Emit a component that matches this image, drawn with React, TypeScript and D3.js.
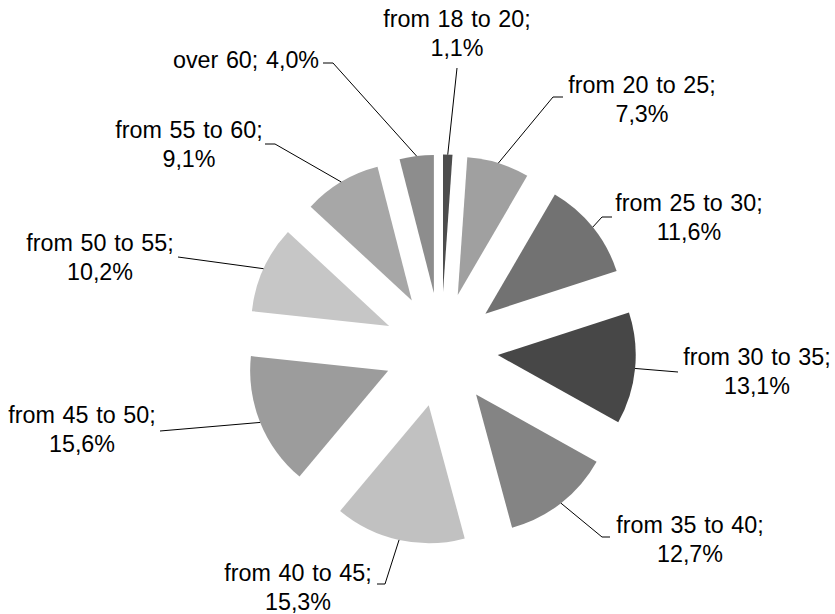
import React from "react";
import * as d3 from "d3";

const categories = [
  "from 18 to 20",
  "from 20 to 25",
  "from 25 to 30",
  "from 30 to 35",
  "from 35 to 40",
  "from 40 to 45",
  "from 45 to 50",
  "from 50 to 55",
  "from 55 to 60",
  "over 60",
];
const values = [1.1, 7.3, 11.6, 13.1, 12.7, 15.3, 15.6, 10.2, 9.1, 4.0];
const colors = [
  "#4d4d4d",
  "#a0a0a0",
  "#727272",
  "#474747",
  "#848484",
  "#c1c1c1",
  "#9c9c9c",
  "#c6c6c6",
  "#a7a7a7",
  "#8d8d8d",
];

// label layout: text centre x, first baseline y, leader elbow and end (label side)
const labelX = [457, 642, 689, 757, 690, 298, 82, 100, 189, 246];
const labelY = [27, 93, 211, 365, 533, 581, 423, 251, 138, 68];
const singleLine = [false, false, false, false, false, false, false, false, false, true];
const elbows: [number, number][] = [
  [457, 68], [553, 97], [602, 217], [678, 372], [602, 537],
  [385, 584], [160, 431], [178, 257], [275, 144], [333, 63],
];
const ends: [number, number][] = [
  [457, 68], [563, 97], [612, 217], [678, 372], [610, 537],
  [377, 584], [160, 431], [178, 257], [265, 144], [323, 63],
];

const W = 835;
const H = 614;
const CX = 441;
const CY = 349.5;
const R = 138;
const EXPLODE = 57;
const FONT = 23.3;
const LINE_H = 28.5;

const fmt = (v: number) => v.toFixed(1).replace(".", ",") + "%";

export default function App() {
  const pie = d3
    .pie<number>()
    .sort(null)
    .value((d) => d)
    .startAngle(0)
    .endAngle(2 * Math.PI);
  const arcs = pie(values);
  const arcGen = d3.arc<d3.PieArcDatum<number>>().innerRadius(0).outerRadius(R);

  return (
    <svg
      width={W}
      height={H}
      style={{ position: "absolute", left: 0, top: 0, background: "#fff" }}
      fontFamily="'Liberation Sans', Arial, sans-serif"
    >
      <rect x={0} y={0} width={W} height={H} fill="#fff" />
      {arcs.map((a, i) => {
        const mid = (a.startAngle + a.endAngle) / 2;
        const dx = EXPLODE * Math.sin(mid);
        const dy = -EXPLODE * Math.cos(mid);
        return (
          <path
            key={"s" + i}
            d={arcGen(a) || ""}
            transform={`translate(${CX + dx},${CY + dy})`}
            fill={colors[i]}
          />
        );
      })}
      {arcs.map((a, i) => {
        const mid = (a.startAngle + a.endAngle) / 2;
        const r = EXPLODE + R;
        const px = CX + r * Math.sin(mid);
        const py = CY - r * Math.cos(mid);
        const pts = [[px, py], elbows[i], ends[i]];
        return (
          <path
            key={"l" + i}
            d={d3.line()(pts as [number, number][]) || ""}
            fill="none"
            stroke="#000"
            strokeWidth={1}
          />
        );
      })}
      {categories.map((c, i) => (
        <text
          key={"t" + i}
          x={labelX[i]}
          y={labelY[i]}
          textAnchor="middle"
          fontSize={FONT}
          fill="#000"
          wordSpacing={1.2}
        >
          {singleLine[i] ? (
            `${c}; ${fmt(values[i])}`
          ) : (
            <>
              <tspan x={labelX[i]} y={labelY[i]}>{c};</tspan>
              <tspan x={labelX[i]} y={labelY[i] + LINE_H}>{fmt(values[i])}</tspan>
            </>
          )}
        </text>
      ))}
    </svg>
  );
}
